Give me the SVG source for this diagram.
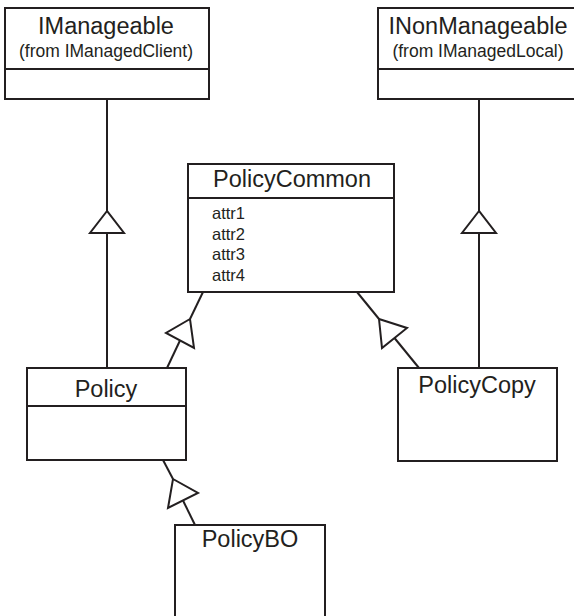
<svg xmlns="http://www.w3.org/2000/svg" width="574" height="616" viewBox="0 0 574 616">
<style>
.box{fill:#fff;stroke:#231f20;stroke-width:2}
.div{stroke:#231f20;stroke-width:2}
.ln{stroke:#231f20;stroke-width:2;fill:none}
.tri{fill:#fff;stroke:#231f20;stroke-width:2;stroke-linejoin:miter}
.t{font-family:"Liberation Sans",Arial,sans-serif;fill:#231f20}
.title{font-size:23.5px;text-anchor:middle}
.sub{font-size:17.5px;text-anchor:middle}
.attr{font-size:16.5px}
</style>
<rect width="574" height="616" fill="#fff"/>
<g id="connectors">
<line class="ln" x1="107" y1="99" x2="107" y2="211"/>
<polygon class="tri" points="107,211 90,233 124,233"/>
<line class="ln" x1="107" y1="233" x2="107" y2="368"/>
<line class="ln" x1="479" y1="99" x2="479" y2="211"/>
<polygon class="tri" points="479,211 462,233 496,233"/>
<line class="ln" x1="479" y1="233" x2="479" y2="368"/>
<line class="ln" x1="167" y1="368" x2="180" y2="340.5"/>
<polygon class="tri" points="190,319 166,333 194,348"/>
<line class="ln" x1="190" y1="319" x2="203" y2="292"/>
<line class="ln" x1="419" y1="368" x2="394.5" y2="338"/>
<polygon class="tri" points="379,319 407,328 382,348"/>
<line class="ln" x1="379" y1="319" x2="357" y2="292"/>
<line class="ln" x1="195" y1="525" x2="183" y2="500.5"/>
<polygon class="tri" points="173,479 198,493 168,508"/>
<line class="ln" x1="173" y1="479" x2="163" y2="460"/>
</g>
<g id="IManageable">
<rect class="box" x="5" y="8" width="204" height="91"/>
<line class="div" x1="5" y1="69" x2="209" y2="69"/>
<text class="t title" x="106" y="34">IManageable</text>
<text class="t sub" x="106" y="57">(from IManagedClient)</text>
</g>
<g id="INonManageable">
<rect class="box" x="378" y="8" width="199" height="91"/>
<line class="div" x1="378" y1="69" x2="577" y2="69"/>
<text class="t title" x="478" y="34">INonManageable</text>
<text class="t sub" x="478" y="57">(from IManagedLocal)</text>
</g>
<g id="PolicyCommon">
<rect class="box" x="188" y="164" width="206" height="128"/>
<line class="div" x1="188" y1="198" x2="394" y2="198"/>
<text class="t title" x="292" y="187">PolicyCommon</text>
<text class="t attr" x="212" y="219">attr1</text>
<text class="t attr" x="212" y="240">attr2</text>
<text class="t attr" x="212" y="260">attr3</text>
<text class="t attr" x="212" y="281">attr4</text>
</g>
<g id="Policy">
<rect class="box" x="27" y="368" width="159" height="92"/>
<line class="div" x1="27" y1="406" x2="186" y2="406"/>
<text class="t title" x="106" y="397">Policy</text>
</g>
<g id="PolicyCopy">
<rect class="box" x="398" y="368" width="159" height="93"/>
<text class="t title" x="477" y="393">PolicyCopy</text>
</g>
<g id="PolicyBO">
<rect class="box" x="175" y="525" width="150" height="100"/>
<text class="t title" x="250" y="547">PolicyBO</text>
</g>
</svg>
